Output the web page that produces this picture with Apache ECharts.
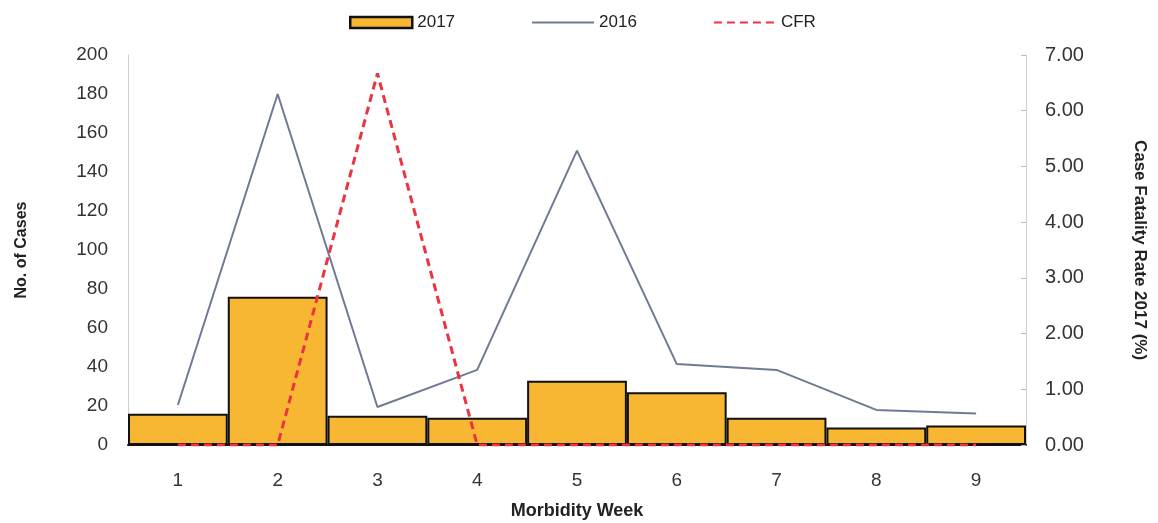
<!DOCTYPE html>
<html><head><meta charset="utf-8">
<script src="https://cdn.jsdelivr.net/npm/echarts@6/dist/echarts.min.js"></script>
<style>html,body{margin:0;padding:0;background:#fff}#c{width:1158px;height:523px}</style>
</head><body><div id="c"></div>
<script>
const weeks = ['1','2','3','4','5','6','7','8','9'];
const cases2017 = [16, 76, 15, 14, 33, 27, 14, 9, 10];
const cases2016 = [20.5, 180, 19.5, 38.5, 151, 41.5, 38.5, 18, 16.2];
const cfr2017 = [0, 0, 6.67, 0, 0, 0, 0, 0, 0];
const leftTicks = {min: 0, max: 200, interval: 20};
const rightTicks = {min: 0, max: 7, interval: 1};

const FONT = 'Liberation Sans';
const chart = echarts.init(document.getElementById('c'));
chart.setOption({
  animation: false,
  textStyle: {fontFamily: FONT},
  legend: {
    top: 9, left: 344, itemGap: 76, itemWidth: 62, itemHeight: 11,
    textStyle: {fontSize: 17, color: '#222', fontFamily: FONT},
    data: [
      {name: '2017', icon: 'rect', itemStyle: {borderWidth: 2.5}},
      {name: '2016', itemStyle: {opacity: 0}},
      {name: 'CFR', itemStyle: {opacity: 0}}
    ]
  },
  grid: {left: 128, right: 132, top: 55, bottom: 78, containLabel: false, outerBoundsMode: 'none'},
  xAxis: {
    type: 'category', data: weeks, boundaryGap: true,
    axisLine: {lineStyle: {color: '#111', width: 2}},
    axisTick: {show: false},
    axisLabel: {fontSize: 19, color: '#333', margin: 26, fontFamily: FONT},
    name: 'Morbidity Week', nameLocation: 'middle', nameGap: 57,
    nameTextStyle: {fontSize: 18, fontWeight: 'bold', color: '#222', fontFamily: FONT}
  },
  yAxis: [
    {
      type: 'value', min: leftTicks.min, max: leftTicks.max, interval: leftTicks.interval,
      axisLine: {show: true, lineStyle: {color: '#cfcfcf', width: 1}},
      axisTick: {show: false},
      splitLine: {show: false},
      axisLabel: {fontSize: 19, color: '#333', margin: 20, fontFamily: FONT},
      name: 'No. of Cases', nameLocation: 'middle', nameGap: 98, nameRotate: 90,
      nameTextStyle: {fontSize: 16, fontWeight: 'bold', color: '#222', fontFamily: FONT}
    },
    {
      type: 'value', min: rightTicks.min, max: rightTicks.max, interval: rightTicks.interval,
      position: 'right',
      axisLine: {show: true, lineStyle: {color: '#cfcfcf', width: 1}},
      axisTick: {show: true, inside: true, length: 5, lineStyle: {color: '#bbb'}},
      splitLine: {show: false},
      axisLabel: {fontSize: 20, color: '#333', margin: 19, fontFamily: FONT,
        formatter: v => v.toFixed(2)},
      name: 'Case Fatality Rate 2017 (%)', nameLocation: 'middle', nameGap: 105, nameRotate: -90,
      nameTextStyle: {fontSize: 17, fontWeight: 'bold', color: '#222', fontFamily: FONT}
    }
  ],
  series: [
    {
      name: '2017', type: 'bar', data: cases2017, yAxisIndex: 0,
      barCategoryGap: '0%', barGap: '0%',
      itemStyle: {color: '#F8B733', borderColor: '#111', borderWidth: 2}
    },
    {
      name: '2016', type: 'line', data: cases2016, yAxisIndex: 0,
      symbol: 'none', lineStyle: {color: '#6F7A93', width: 2}, itemStyle: {color: '#6F7A93'}
    },
    {
      name: 'CFR', type: 'line', data: cfr2017, yAxisIndex: 1,
      symbol: 'none', lineStyle: {color: '#EC3340', width: 3, type: [8, 5]}, itemStyle: {color: '#EC3340'}
    }
  ]
});
</script></body></html>
